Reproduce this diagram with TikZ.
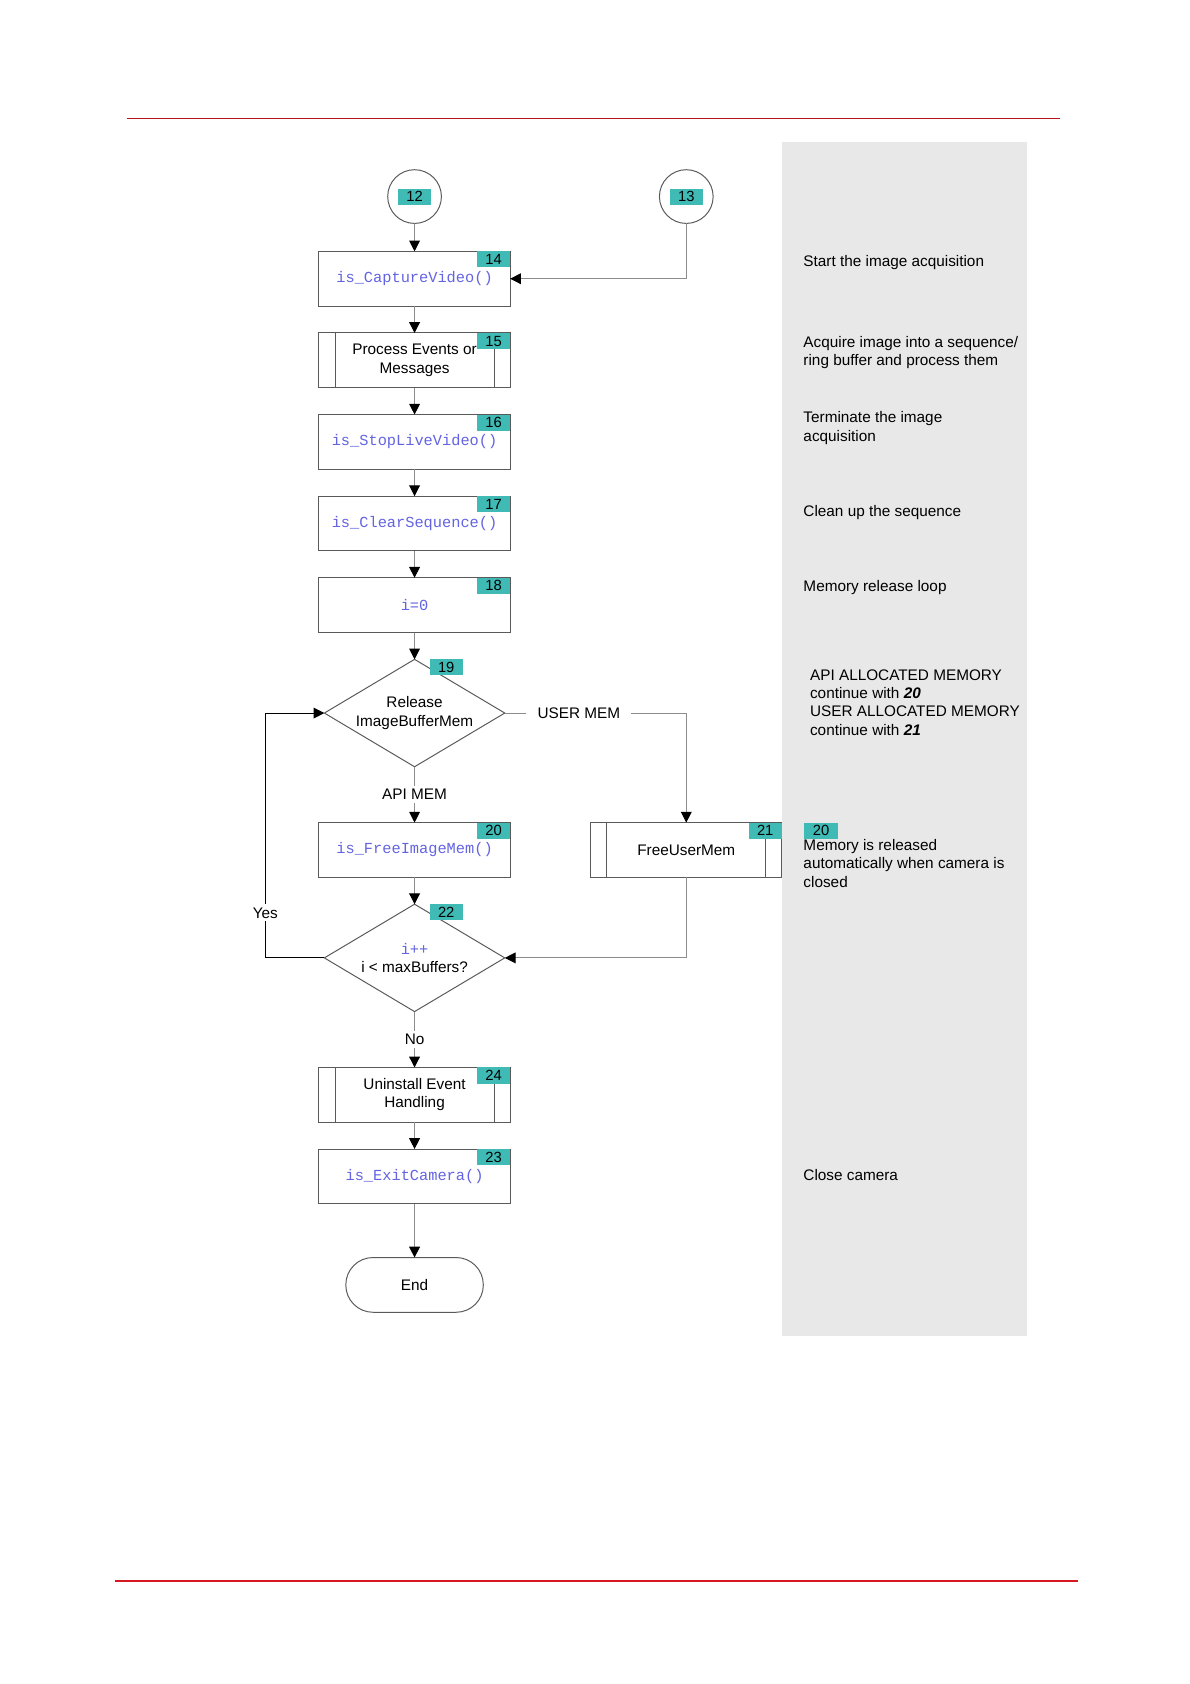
\documentclass[tikz,border=0pt]{standalone}
\usepackage{fontspec}
\setmainfont{Liberation Sans}
\setmonofont{Liberation Mono}
\usepackage{xcolor}
\usetikzlibrary{positioning, shapes.geometric, arrows.meta}

\definecolor{tagteal}{RGB}{64,186,181}
\definecolor{codeblue}{RGB}{100,100,226}
\definecolor{panelgray}{RGB}{232,232,232}
\definecolor{boxgray}{RGB}{90,90,90}
\definecolor{linegray}{RGB}{140,140,140}
\definecolor{rulered}{RGB}{214,24,32}
\newcommand{\code}[1]{\textcolor{codeblue}{\ttfamily #1}}

\begin{document}
\begin{tikzpicture}[node distance=0.671cm,
    font=\fontsize{10.9}{13}\selectfont,
    box/.style={draw=boxgray, line width=0.7pt, minimum width=4.78cm, minimum height=1.369cm, inner sep=0pt, outer sep=0pt, align=center},
    subproc/.style={box, path picture={
        \draw[boxgray, line width=0.7pt] ([xshift=0.403cm]path picture bounding box.north west) -- ([xshift=0.403cm]path picture bounding box.south west)
          ([xshift=-0.403cm]path picture bounding box.north east) -- ([xshift=-0.403cm]path picture bounding box.south east);}},
    cond/.style={diamond, draw=boxgray, line width=0.7pt, aspect=1.68, minimum width=4.51cm, minimum height=2.685cm, inner sep=0pt, outer sep=0pt, align=center},
    conn/.style={draw=linegray, line width=0.7pt, -{Triangle[length=0.27cm, width=0.27cm, color=black]}},
    circ/.style={circle, draw=boxgray, line width=0.7pt, minimum size=1.343cm, inner sep=0pt, outer sep=0pt},
    term/.style={draw=boxgray, line width=0.7pt, rounded corners=0.68cm, minimum width=3.437cm, minimum height=1.369cm, outer sep=0pt},
    tag/.style={fill=tagteal, minimum width=0.832cm, minimum height=0.403cm, inner sep=0pt, outer sep=0pt, font=\fontsize{10.5}{12}\selectfont},
    lbl/.style={fill=white, inner xsep=0.28cm, inner ysep=0.08cm},
    note/.style={anchor=west, align=left, inner sep=0pt}]

  \useasboundingbox (0,0) rectangle (29.75,-42.1);
  \fill[white] (0,0) rectangle (29.75,-42.1);
  \fill[panelgray] (19.547,-3.544) rectangle (25.669,-33.40);
  \draw[rulered!85!black, line width=0.9pt] (3.168,-2.954) -- (26.50,-2.954);
  \draw[rulered, line width=1.8pt] (2.873,-39.52) -- (26.957,-39.52);

  \node[box] (b14) at (10.364,-6.968) {\code{is\_CaptureVideo()}};
  \node[circ] (c12) [above=0.698cm of b14] {};
  \node[circ] (c13) at (17.157,-4.914) {};
  \node[subproc] (b15) [below=of b14] {Process Events or\\Messages};
  \node[box] (b16) [below=of b15] {\code{is\_StopLiveVideo()}};
  \node[box] (b17) [below=of b16] {\code{is\_ClearSequence()}};
  \node[box] (b18) [below=of b17] {\code{i=0}};
  \node[cond] (d19) [below=of b18] {Release\\ImageBufferMem};
  \node[box] (b20) [below=1.396cm of d19] {\code{is\_FreeImageMem()}};
  \node[subproc] (b21) at (b20 -| c13) {FreeUserMem};
  \node[cond] (d22) [below=of b20] {\code{i++}\\i < maxBuffers?};
  \node[subproc] (b24) [below=1.396cm of d22] {Uninstall Event\\Handling};
  \node[box] (b23) [below=of b24] {\code{is\_ExitCamera()}};
  \node[term] (e) [below=1.343cm of b23] {End};

  \node[tag] (t12) at (c12) {12};
  \node[tag] (t13) at (c13) {13};
  \foreach \n in {14,15,16,17,18,20,21,24,23}
    \node[tag, anchor=north east] (t\n) at (b\n.north east) {\n};
  \node[tag, anchor=north west] (t19) at ([xshift=0.376cm]d19.north) {19};
  \node[tag, anchor=north west] (t22) at ([xshift=0.376cm]d22.north) {22};

  \foreach \a/\b in {c12/b14, b14/b15, b15/b16, b16/b17, b17/b18, b18/d19, b20/d22, b24/b23, b23/e}
    \draw[conn] (\a) -- (\b);
  \draw[conn] (c13) |- (b14);
  \draw[conn] (d19) -- node[lbl] {API MEM} (b20);
  \draw[conn] (d19) -| node[lbl, pos=0.204] {USER MEM} (b21);
  \draw[conn] (b21) |- (d22);
  \draw[conn] (d22) -- node[lbl] {No} (b24);
  \coordinate (lp) at (6.632,0);
  \draw[conn, draw=black] (d22.west) -- (d22.west -| lp) -- node[lbl, pos=0.184, inner xsep=0.05cm] {Yes} (d19.west -| lp) -- (d19.west);

  \node[note] (n14) at (20.08,-6.551) {Start the image acquisition};
  \node[note] (n15) at (20.08,-8.820) {Acquire image into a sequence/\\ring buffer and process them};
  \node[note] (n16) at (20.08,-10.70) {Terminate the image\\acquisition};
  \node[note] (n17) at (20.08,-12.807) {Clean up the sequence};
  \node[note] (n18) at (20.08,-14.687) {Memory release loop};
  \node[note] (n19) at (20.245,-17.56) {API ALLOCATED MEMORY\\continue with \textbf{\textit{20}}\\USER ALLOCATED MEMORY\\continue with \textbf{\textit{21}}};
  \node[tag, anchor=north west] (tn20) at (20.11,-20.567) {20};
  \node[note] (n20) at (20.08,-21.587) {Memory is released\\automatically when camera is\\closed};
  \node[note] (n23) at (20.08,-29.374) {Close camera};
\end{tikzpicture}
\end{document}
